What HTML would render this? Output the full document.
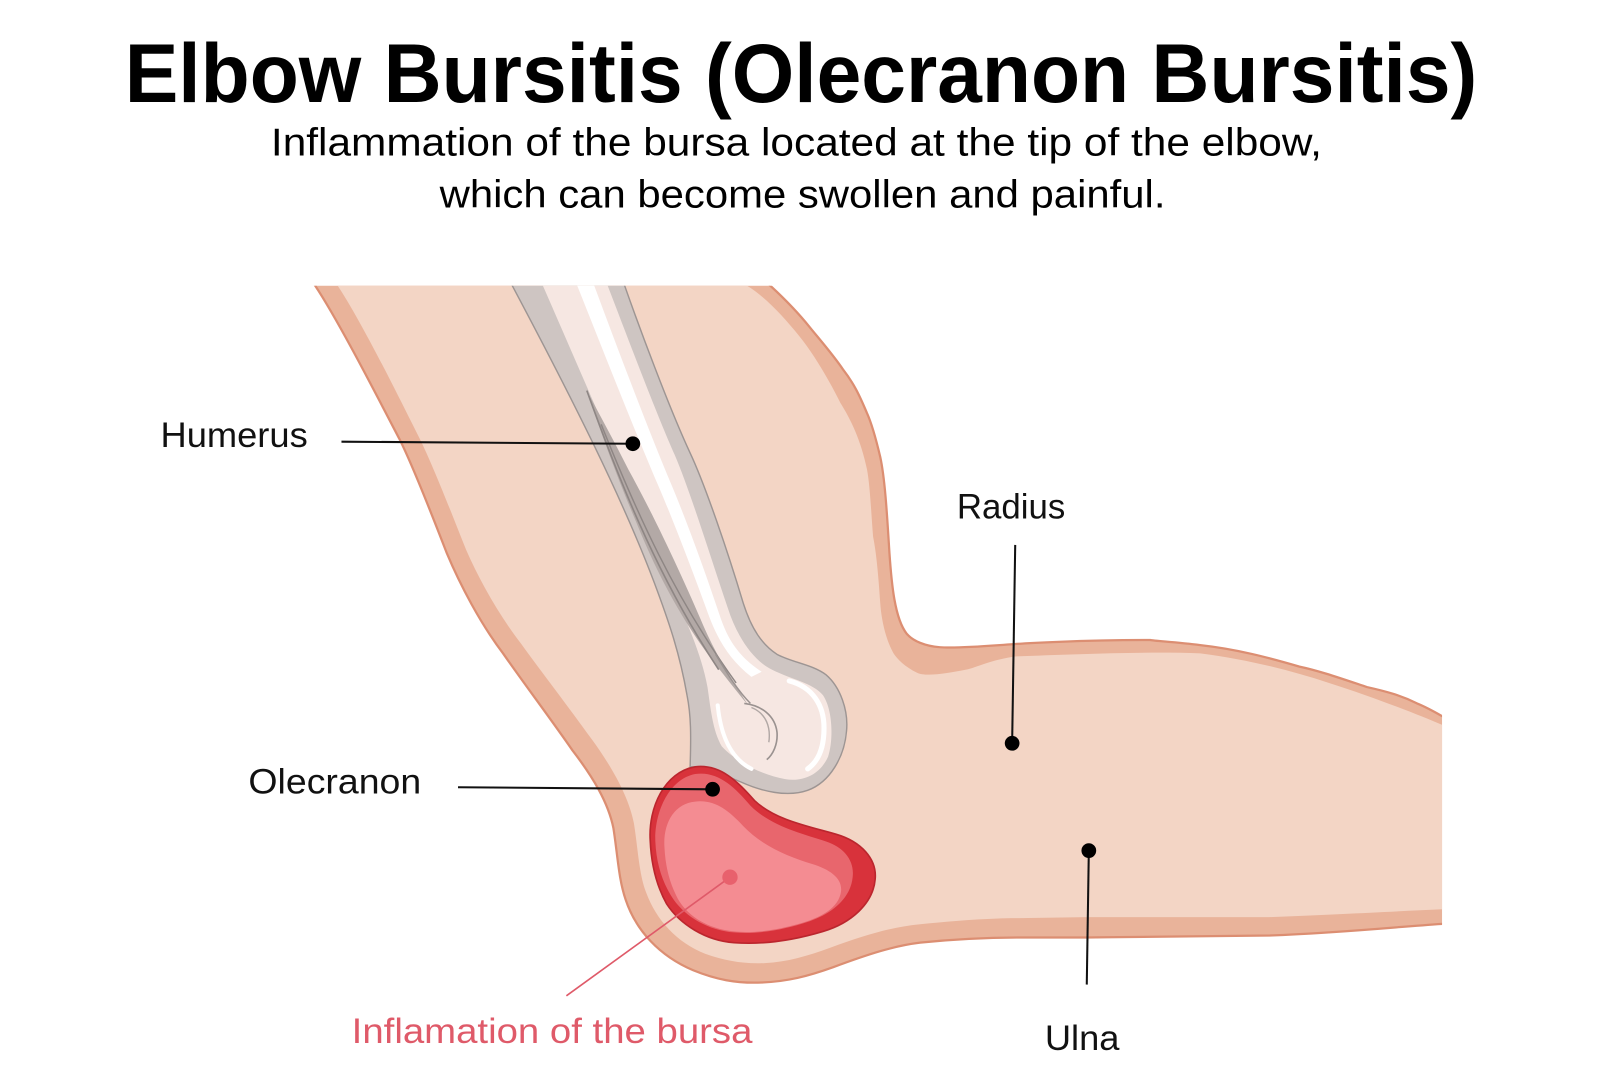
<!DOCTYPE html>
<html>
<head>
<meta charset="utf-8">
<style>
html,body{margin:0;padding:0;background:#fff;}
svg{display:block;}
text{font-family:"Liberation Sans", Arial, sans-serif;}
</style>
</head>
<body>
<svg width="1600" height="1086" viewBox="0 0 1565 1062.2" preserveAspectRatio="none" xmlns="http://www.w3.org/2000/svg">
  <defs>
    <clipPath id="armclip">
      <rect x="0" y="279.5" width="1410.5" height="800"/>
    </clipPath>
  </defs>
  <rect x="0" y="0" width="1565" height="1062.2" fill="#ffffff"/>

  <!-- Title -->
  <text x="122" y="100" font-size="82" font-weight="bold" fill="#000" textLength="1323" lengthAdjust="spacingAndGlyphs">Elbow Bursitis (Olecranon Bursitis)</text>
  <text x="265" y="152" font-size="38" fill="#000" textLength="1028" lengthAdjust="spacingAndGlyphs">Inflammation of the bursa located at the tip of the elbow,</text>
  <text x="430" y="203" font-size="38" fill="#000" textLength="710" lengthAdjust="spacingAndGlyphs">which can become swollen and painful.</text>

  <!-- Arm -->
  <g clip-path="url(#armclip)">
    <path fill="#e9b39a" stroke="#dc8e72" stroke-width="2.2" d="
      M300,268
      L308,279
      C 330,312 365,380 391,430
      C 405,458 425,510 437,541
      C 450,572 470,610 492,639
      C 510,665 540,705 560,734
      C 580,760 595,785 600,810
      C 604,835 605,860 612,880
      C 622,910 645,935 678,949
      C 700,958 720,962 745,961
      C 770,960 790,955 815,946
      C 850,933 875,925 900,922
      C 940,918 970,917 998,917
      L 1063,917
      C 1130,916 1200,915 1242,915
      C 1320,912 1370,906 1420,903
      L 1420,706
      C 1405,697 1396,692 1386,688
      C 1370,680 1355,676 1337,672
      C 1310,663 1290,656 1271,652
      C 1240,643 1210,635 1174,631
      C 1150,628 1130,627 1125,626
      C 1060,626 1000,629 978,631
      C 950,633 930,634 919,633
      C 905,632 893,627 887,620
      C 875,605 872,570 870,541
      C 868,510 866,470 861,447
      C 857,430 853,415 848,404
      C 840,385 835,375 825,362
      C 815,347 800,330 792,320
      C 780,305 765,290 753,279
      L 740,268 Z"/>
    <path fill="#f3d5c5" d="
      M322,268
      L330,279
      C 352,312 385,378 410,428
      C 424,456 444,508 456,538
      C 469,568 489,603 510,630
      C 528,655 558,694 578,722
      C 600,752 615,780 620,805
      C 624,830 625,855 632,873
      C 642,900 662,922 690,933
      C 710,940 728,943 748,942
      C 770,941 790,935 812,927
      C 845,915 870,907 900,904
      C 940,900 970,898 998,898
      L 1063,897
      C 1130,897 1200,897 1242,897
      C 1320,894 1370,891 1420,889
      L 1420,713
      C 1395,702 1350,684 1300,668
      C 1260,655 1220,645 1174,639
      C 1120,637 1050,640 994,642
      C 970,645 955,653 945,655
      C 925,659 905,662 897,658
      C 885,652 878,645 874,639
      C 866,625 862,605 861,590
      C 859,560 857,540 854,525
      C 852,500 851,475 848,459
      C 842,430 832,410 822,394
      C 810,370 795,345 782,329
      C 765,308 748,290 730,279
      L 720,268 Z"/>
  </g>

  <!-- Humerus bone -->
  <g clip-path="url(#armclip)">
    <path fill="#cec5c2" stroke="#9d9593" stroke-width="1.4" d="
      M495,268 L607,268
      C 625,320 655,400 675,443
      C 690,475 712,540 727,590
      C 735,615 745,630 760,640
      C 775,648 795,650 808,660
      C 822,672 830,695 828,715
      C 826,740 812,765 790,773
      C 770,780 745,774 725,765
      C 708,758 695,752 685,750
      L 675,750
      C 676,720 676,700 672,680
      C 665,640 655,610 640,570
      C 610,490 560,390 495,268 Z"/>
    <!-- light interior -->
    <path fill="#f6e7e2" d="
      M526,268 L590,268
      C 612,325 640,400 660,445
      C 675,480 695,545 712,595
      C 720,620 735,645 755,655
      C 775,665 795,668 805,680
      C 815,695 815,725 810,740
      C 802,758 785,765 768,762
      C 745,758 720,745 706,730
      C 697,715 695,692 692,672
      C 688,650 680,628 668,600
      C 640,530 575,380 526,268 Z"/>
    <!-- dark crease wedge -->
    <path fill="#b3a9a6" d="M574,382 C 590,430 605,470 622,510 C 640,555 665,605 700,650 C 712,665 722,678 732,690 C 716,665 700,640 688,612 C 668,565 640,505 615,460 C 600,430 586,405 574,382 Z"/>
    <path fill="none" stroke="#8e8684" stroke-width="1.6" d="M574,382 C 602,460 640,560 703,655"/>
    <path fill="none" stroke="#8e8684" stroke-width="1.4" d="M588,415 C 622,500 660,585 720,668"/>
    <!-- white stripe -->
    <path fill="#ffffff" d="M560,268 L577,268 C 600,330 630,410 655,470 C 672,510 690,560 705,605 C 712,625 722,642 745,657 L 735,662 C 714,646 702,625 694,604 C 680,565 656,502 640,466 C 612,400 585,330 560,268 Z"/>
    <path fill="none" stroke="#ffffff" stroke-width="5" stroke-linecap="round" d="M772,666 C 795,672 806,690 806,712 C 806,732 800,745 790,752"/>
    <path fill="none" stroke="#ffffff" stroke-width="4" stroke-linecap="round" d="M702,690 C 705,720 715,742 735,752"/>
    <!-- head curl strokes -->
    <path fill="none" stroke="#9a9290" stroke-width="1.6" d="M728,688 C 745,690 758,700 760,716 C 761,728 756,738 750,743"/>
    <path fill="none" stroke="#b1a8a5" stroke-width="1.4" d="M735,692 C 750,698 754,712 752,726"/>
    <path fill="none" stroke="#9a9290" stroke-width="1.4" d="M700,640 C 712,660 722,676 734,688"/>
  </g>

  <!-- Bursa -->
  <path fill="#d8323b" stroke="#bb262e" stroke-width="1.6" d="M636,822 C634,790 650,755 680,750 C705,747 722,765 738,783 C758,802 790,808 818,816 C842,823 858,840 856,860 C854,884 832,903 805,911 C775,920 745,924 718,922 C690,920 665,904 652,884 C642,866 637,846 636,822 Z"/>
  <path fill="#e8666d" d="M641,823 C640,795 654,762 680,757 C702,754 718,769 734,788 C754,808 783,815 808,823 C826,829 836,842 834,858 C832,878 815,893 792,901 C765,910 740,914 718,912 C693,910 671,897 659,880 C648,864 642,845 641,823 Z"/>
  <path fill="#f48c92" d="M650,830 C648,806 659,786 680,784 C699,782 712,792 727,808 C746,828 772,838 794,845 C814,851 826,861 822,875 C818,890 800,899 776,905 C750,912 728,913 711,910 C689,906 672,895 663,879 C655,864 651,848 650,830 Z"/>

  <!-- Leader lines & dots -->
  <g stroke="#111" stroke-width="2" fill="none">
    <line x1="334" y1="432" x2="619" y2="434"/>
    <line x1="993" y1="533" x2="990" y2="727"/>
    <line x1="448" y1="770" x2="697" y2="772"/>
    <line x1="1065" y1="832" x2="1063" y2="963"/>
  </g>
  <g fill="#000">
    <circle cx="619" cy="434" r="7.2"/>
    <circle cx="990" cy="727" r="7.2"/>
    <circle cx="697" cy="772" r="7.2"/>
    <circle cx="1065" cy="832" r="7.2"/>
  </g>
  <line x1="714" y1="858" x2="554" y2="974" stroke="#df5a69" stroke-width="1.6"/>
  <circle cx="714" cy="858" r="7.5" fill="#e8616d"/>

  <!-- Labels -->
  <text x="157" y="437" font-size="34" fill="#111" textLength="144" lengthAdjust="spacingAndGlyphs">Humerus</text>
  <text x="936" y="507" font-size="34" fill="#111" textLength="106" lengthAdjust="spacingAndGlyphs">Radius</text>
  <text x="243" y="776" font-size="34" fill="#111" textLength="169" lengthAdjust="spacingAndGlyphs">Olecranon</text>
  <text x="1022" y="1027" font-size="34" fill="#111" textLength="73" lengthAdjust="spacingAndGlyphs">Ulna</text>
  <text x="344" y="1020" font-size="34" fill="#df5a69" textLength="392" lengthAdjust="spacingAndGlyphs">Inflamation of the bursa</text>
</svg>
</body>
</html>
